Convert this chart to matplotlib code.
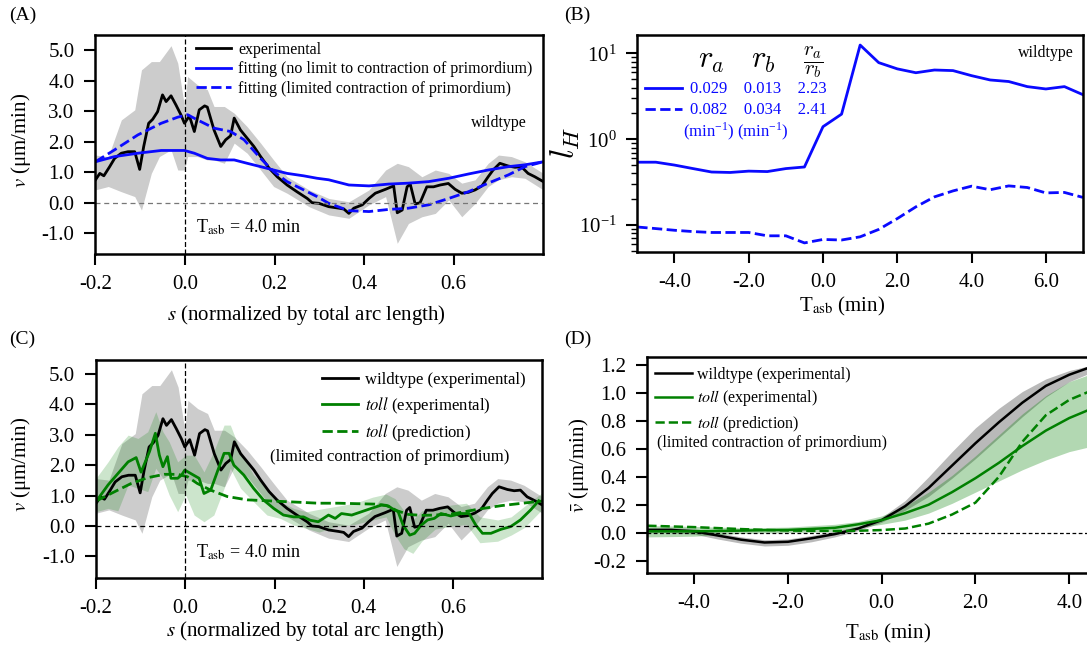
import numpy as np
import matplotlib
matplotlib.use('Agg')
from matplotlib import pyplot as plt
from matplotlib.ticker import FormatStrFormatter

plt.rcParams['font.family'] = ['Liberation Serif', 'DejaVu Serif']
plt.rcParams['mathtext.fontset'] = 'stix'
plt.rcParams['axes.unicode_minus'] = False

# ---- panel A / C : wildtype experimental velocity profile at T_asb = 4 min
s_wt = [-0.200, -0.190, -0.181, -0.168, -0.157, -0.142, -0.127, -0.112, -0.101, -0.092,
        -0.081, -0.072, -0.061, -0.050, -0.042, -0.031, -0.020, -0.009, -0.001, 0.010,
        0.021, 0.032, 0.044, 0.050, 0.065, 0.080, 0.091, 0.102, 0.110, 0.124,
        0.139, 0.154, 0.169, 0.188, 0.206, 0.228, 0.250, 0.273, 0.284, 0.299,
        0.321, 0.344, 0.355, 0.366, 0.377, 0.396, 0.411, 0.425, 0.448, 0.466,
        0.474, 0.485, 0.496, 0.503, 0.514, 0.525, 0.540, 0.555, 0.570, 0.581,
        0.588, 0.603, 0.618, 0.633, 0.648, 0.663, 0.677, 0.688, 0.703, 0.722,
        0.737, 0.751, 0.766, 0.781, 0.800]
v_wt = [0.74, 0.96, 0.88, 1.18, 1.45, 1.62, 1.67, 1.67, 1.09, 1.84,
        2.60, 2.73, 2.98, 3.53, 3.31, 3.50, 3.20, 2.88, 2.60, 2.84,
        2.33, 3.04, 3.17, 3.13, 2.38, 1.84, 2.06, 2.19, 2.77, 2.38,
        2.11, 1.84, 1.51, 1.13, 0.85, 0.58, 0.36, 0.14, 0.00, -0.02,
        -0.13, -0.18, -0.21, -0.35, -0.18, -0.07, 0.14, 0.31, 0.44, 0.55,
        -0.33, -0.24, 0.52, 0.61, -0.04, 0.00, 0.52, 0.52, 0.58, 0.61,
        0.63, 0.44, 0.31, 0.34, 0.42, 0.55, 0.85, 1.07, 1.29, 1.20,
        1.16, 1.18, 0.96, 0.85, 0.69]

s_wt_band = [-0.200, -0.171, -0.142, -0.112, -0.097, -0.075, -0.057, -0.031, -0.016, -0.001,
             0.006, 0.028, 0.050, 0.065, 0.088, 0.110, 0.139, 0.169, 0.198, 0.228,
             0.265, 0.277, 0.321, 0.366, 0.411, 0.448, 0.474, 0.499, 0.529, 0.559,
             0.589, 0.618, 0.648, 0.677, 0.700, 0.729, 0.759, 0.800]
v_wt_hi = [1.56, 1.51, 2.71, 3.04, 4.35, 4.62, 4.62, 5.14, 4.57, 3.15,
           4.13, 3.86, 3.70, 3.15, 3.15, 2.93, 2.49, 1.95, 1.40, 0.85,
           0.53, 0.42, 0.14, 0.03, 0.42, 1.07, 1.29, 1.18, 0.85, 1.07,
           0.96, 0.64, 0.75, 1.29, 1.56, 1.51, 1.34, 0.96]
v_wt_lo = [0.42, 0.53, 0.36, 0.20, -0.24, 0.96, 1.51, 1.73, 1.07, 1.07,
           1.51, 1.51, 1.40, 1.40, 1.29, 1.95, 1.62, 1.07, 0.53, 0.31,
           -0.02, -0.13, -0.40, -0.51, -0.07, 0.20, -1.33, -0.68, -0.46, -0.35,
           0.09, -0.46, -0.02, 0.53, 0.75, 0.85, 0.80, 0.42]

s_fit1 = [-0.200, -0.157, -0.105, -0.053, -0.001, 0.021, 0.050, 0.080, 0.110, 0.139,
          0.169, 0.198, 0.228, 0.265, 0.295, 0.321, 0.366, 0.411, 0.455, 0.499,
          0.544, 0.589, 0.633, 0.677, 0.722, 0.759, 0.800]
v_nolimit = [1.34, 1.51, 1.62, 1.71, 1.71, 1.62, 1.45, 1.40, 1.40, 1.29,
             1.18, 1.07, 0.96, 0.88, 0.80, 0.75, 0.58, 0.55, 0.61, 0.64,
             0.69, 0.80, 0.94, 1.07, 1.18, 1.24, 1.34]
s_fit2 = [-0.200, -0.157, -0.105, -0.053, -0.016, 0.006, 0.028, 0.065, 0.102, 0.132,
          0.169, 0.198, 0.228, 0.265, 0.295, 0.321, 0.366, 0.411, 0.455, 0.499,
          0.544, 0.589, 0.633, 0.677, 0.722, 0.759, 0.800]
v_limited = [1.34, 1.73, 2.22, 2.60, 2.80, 2.88, 2.71, 2.44, 2.33, 2.06,
             1.45, 1.02, 0.69, 0.42, 0.20, -0.02, -0.26, -0.29, -0.22, -0.18,
             -0.07, 0.14, 0.36, 0.64, 0.91, 1.18, 1.34]

# ---- panel C : toll mutant
s_toll = [-0.200, -0.173, -0.147, -0.128, -0.110, -0.099, -0.080, -0.067, -0.058, -0.050,
          -0.040, -0.032, -0.017, -0.008, -0.001, 0.012, 0.031, 0.042, 0.057, 0.072,
          0.087, 0.098, 0.109, 0.131, 0.153, 0.175, 0.198, 0.220, 0.243, 0.265,
          0.280, 0.298, 0.321, 0.336, 0.350, 0.373, 0.395, 0.417, 0.440, 0.455,
          0.466, 0.477, 0.488, 0.503, 0.514, 0.529, 0.543, 0.558, 0.573, 0.595,
          0.618, 0.636, 0.651, 0.666, 0.685, 0.707, 0.729, 0.751, 0.774, 0.792]
v_toll = [0.80, 1.35, 1.79, 2.11, 2.25, 1.77, 2.45, 3.05, 2.33, 1.95,
          2.28, 1.57, 1.57, 1.68, 1.84, 1.73, 1.57, 1.07, 1.18, 1.79,
          2.39, 2.39, 2.00, 1.68, 1.24, 0.86, 0.58, 0.36, 0.30, 0.30,
          0.19, 0.14, 0.36, 0.25, 0.41, 0.36, 0.47, 0.58, 0.69, 0.66,
          0.55, 0.47, 0.03, -0.30, -0.24, 0.03, 0.20, 0.25, 0.41, 0.33,
          0.41, 0.41, 0.03, -0.24, -0.24, -0.11, -0.02, 0.20, 0.53, 0.83]
s_toll_band = [-0.200, -0.173, -0.151, -0.128, -0.106, -0.084, -0.066, -0.050, -0.036, -0.017,
               0.001, 0.020, 0.042, 0.064, 0.087, 0.101, 0.124, 0.153, 0.183, 0.213,
               0.243, 0.272, 0.300, 0.340, 0.380, 0.420, 0.450, 0.470, 0.490, 0.510,
               0.530, 0.560, 0.600, 0.630, 0.660, 0.700, 0.730, 0.760, 0.800]
v_toll_hi = [1.57, 2.11, 2.60, 2.99, 2.88, 3.10, 3.76, 3.10, 2.77, 2.11,
             2.33, 2.33, 1.78, 2.45, 3.32, 3.32, 2.45, 1.68, 1.24, 0.80,
             0.58, 0.47, 0.55, 0.65, 0.75, 0.95, 1.05, 0.90, 0.50, 0.20,
             0.50, 0.60, 0.70, 0.75, 0.30, 0.20, 0.30, 0.65, 1.10]
v_toll_lo = [0.47, 0.58, 0.50, 1.35, 1.24, 1.13, 1.90, 1.57, 1.02, 0.47,
             1.02, 0.36, 0.14, 0.36, 1.24, 1.90, 1.24, 0.80, 0.36, 0.25,
             0.03, -0.08, -0.20, 0.00, 0.05, 0.20, 0.30, -0.30, -0.75, -0.90,
             -0.50, -0.10, 0.00, 0.05, -0.55, -0.50, -0.30, -0.05, 0.55]
s_toll_pred = [-0.200, -0.158, -0.121, -0.084, -0.047, -0.017, 0.005, 0.027, 0.057, 0.094,
               0.139, 0.198, 0.257, 0.298, 0.343, 0.425, 0.450, 0.475, 0.500, 0.530,
               0.560, 0.600, 0.655, 0.708, 0.786, 0.800]
v_toll_pred = [0.82, 1.13, 1.40, 1.59, 1.70, 1.70, 1.62, 1.40, 1.18, 0.97,
               0.86, 0.82, 0.78, 0.75, 0.75, 0.72, 0.68, 0.50, 0.38, 0.35,
               0.36, 0.40, 0.55, 0.67, 0.80, 0.82]

# ---- panel B : l_H over time
t_lh = [-5.0, -4.5, -4.0, -3.5, -3.0, -2.5, -2.0, -1.5, -1.0, -0.5, 0.0, 0.5,
        1.0, 1.5, 2.0, 2.5, 3.0, 3.5, 4.0, 4.5, 5.0, 5.5, 6.0, 6.5, 7.0]
lh_nolimit = [0.54, 0.54, 0.50, 0.455, 0.415, 0.41, 0.425, 0.42, 0.455, 0.475, 1.40, 1.96,
              12.5, 7.8, 6.6, 5.95, 6.4, 6.3, 5.5, 4.9, 4.7, 4.1, 3.85, 4.1, 3.3]
lh_limited = [0.095, 0.091, 0.087, 0.084, 0.082, 0.082, 0.082, 0.075, 0.075, 0.062, 0.068, 0.067,
              0.073, 0.089, 0.119, 0.163, 0.213, 0.25, 0.284, 0.258, 0.286, 0.274, 0.237, 0.24, 0.21]
r_a = [0.029, 0.082]
r_b = [0.013, 0.034]
ratio = [2.23, 2.41]

# ---- panel D : mean velocity over time
t_vm = [-5.0, -4.5, -4.0, -3.5, -3.0, -2.5, -2.0, -1.5, -1.0, -0.5,
        0.0, 0.5, 1.0, 1.5, 2.0, 2.5, 3.0, 3.5, 4.0, 4.5]
vm_wt = [0.02, 0.02, 0.01, -0.02, -0.05, -0.07, -0.065, -0.04, -0.01, 0.03,
         0.09, 0.19, 0.32, 0.48, 0.64, 0.79, 0.93, 1.05, 1.13, 1.19]
vm_wt_hi = [0.035, 0.035, 0.03, 0.0, -0.03, -0.05, -0.045, -0.02, 0.01, 0.045,
            0.11, 0.23, 0.40, 0.58, 0.75, 0.89, 1.01, 1.10, 1.16, 1.20]
vm_wt_lo = [0.0, 0.0, -0.01, -0.045, -0.075, -0.095, -0.09, -0.065, -0.03, 0.015,
            0.075, 0.16, 0.26, 0.39, 0.53, 0.68, 0.83, 0.97, 1.08, 1.15]
vm_toll = [0.01, 0.01, 0.01, 0.012, 0.015, 0.018, 0.02, 0.027, 0.035, 0.06,
           0.09, 0.14, 0.20, 0.29, 0.39, 0.50, 0.62, 0.73, 0.82, 0.89]
vm_toll_hi = [0.05, 0.048, 0.045, 0.04, 0.035, 0.037, 0.04, 0.05, 0.06, 0.08,
              0.12, 0.19, 0.29, 0.41, 0.55, 0.70, 0.85, 0.98, 1.08, 1.14]
vm_toll_lo = [-0.03, -0.028, -0.025, -0.015, -0.005, -0.002, 0.0, 0.005, 0.01, 0.035,
              0.06, 0.09, 0.14, 0.21, 0.29, 0.37, 0.45, 0.52, 0.58, 0.62]
vm_toll_pred = [0.05, 0.045, 0.04, 0.033, 0.026, 0.02, 0.016, 0.013, 0.012, 0.014,
                0.019, 0.03, 0.065, 0.13, 0.215, 0.40, 0.65, 0.84, 0.95, 1.02]

green = '#008000'
blue = '#0a0aff'
tick_kw = dict(direction='out', length=8, width=1.5, labelsize=15, pad=7)


def style(ax):
    for sp in ax.spines.values():
        sp.set_linewidth(1.8)
    ax.tick_params(which='major', **tick_kw)


fig = plt.figure(figsize=(10.87, 6.51), dpi=100)

# ================= (A)
axA = fig.add_axes([0.0877, 0.6098, 0.4121, 0.3369])
axA.fill_between(s_wt_band, v_wt_lo, v_wt_hi, color='gray', alpha=0.4, lw=0)
axA.plot(s_wt, v_wt, color='k', lw=2, label='experimental')
axA.plot(s_fit1, v_nolimit, color=blue, lw=2,
         label='fitting (no limit to contraction of primordium)')
axA.plot(s_fit2, v_limited, color=blue, lw=2, ls='--',
         label='fitting (limited contraction of primordium)')
axA.axhline(0, color='#777777', lw=0.9, ls=(0, (4, 3)))
axA.axvline(0, color='k', lw=0.9, ls=(0, (4, 2)))
axA.set_xlim(-0.2, 0.8)
axA.set_ylim(-1.68, 5.5)
axA.set_xticks([-0.2, 0.0, 0.2, 0.4, 0.6])
axA.set_yticks([-1, 0, 1, 2, 3, 4, 5])
axA.xaxis.set_major_formatter(FormatStrFormatter('%.1f'))
axA.yaxis.set_major_formatter(FormatStrFormatter('%.1f'))
style(axA)
axA.set_xlabel(r'$s$ (normalized by total arc length)', fontsize=15)
axA.xaxis.set_label_coords(0.472, -0.225)
axA.set_ylabel(r'$v$ (μm/min)', fontsize=15)
axA.yaxis.set_label_coords(-0.14, 0.52)
axA.legend(loc='upper left', bbox_to_anchor=(0.225, 0.968), frameon=False, fontsize=11.5,
           handlelength=2.2, handletextpad=0.45, labelspacing=0.22,
           borderpad=0, borderaxespad=0)
axA.text(0.70, 2.6, 'wildtype', fontsize=11.5, ha='center', va='center')
axA.text(0.025, -0.81, r'T$_{\rm asb}$ = 4.0 min', fontsize=13, ha='left', va='center')

# ================= (B)
axB = fig.add_axes([0.5863, 0.6134, 0.4100, 0.3333])
axB.plot(t_lh, lh_nolimit, color=blue, lw=2,
         label=f'{r_a[0]:.3f}    {r_b[0]:.3f}    {ratio[0]:.2f}')
axB.plot(t_lh, lh_limited, color=blue, lw=2, ls='--',
         label=f'{r_a[1]:.3f}    {r_b[1]:.3f}    {ratio[1]:.2f}')
axB.set_yscale('log')
axB.set_xlim(-5, 7)
axB.set_ylim(0.049, 16.5)
axB.set_xticks([-4, -2, 0, 2, 4, 6])
axB.xaxis.set_major_formatter(FormatStrFormatter('%.1f'))
style(axB)
axB.tick_params(which='minor', direction='out', length=4, width=1)
axB.set_xlabel(r'T$_{\rm asb}$ (min)', fontsize=15)
axB.xaxis.set_label_coords(0.46, -0.20)
axB.set_ylabel(r'$l_H$', fontsize=24, math_fontfamily='cm')
axB.yaxis.set_label_coords(-0.125, 0.5)
legB = axB.legend(loc='upper left', bbox_to_anchor=(0.017, 0.785), frameon=False, fontsize=12,
                  handlelength=2.2, handletextpad=0.5, labelspacing=0.3,
                  borderpad=0, borderaxespad=0)
for t in legB.get_texts():
    t.set_color(blue)
axB.text(0.167, 0.883, r'$r_a$', fontsize=22, math_fontfamily='cm',
         ha='center', va='center', transform=axB.transAxes)
axB.text(0.282, 0.883, r'$r_b$', fontsize=22, math_fontfamily='cm',
         ha='center', va='center', transform=axB.transAxes)
axB.text(0.394, 0.874, r'$\dfrac{r_a}{r_b}$', fontsize=15, math_fontfamily='cm',
         ha='center', va='center', transform=axB.transAxes)
for xc in (0.161, 0.282):
    axB.text(xc, 0.556, r'(min$^{\mathregular{-1}}$)', fontsize=12, color=blue,
             ha='center', va='center', transform=axB.transAxes)
axB.text(0.98, 0.914, 'wildtype', fontsize=11.5, ha='right', va='center',
         transform=axB.transAxes)

# ================= (C)
axC = fig.add_axes([0.0883, 0.1126, 0.4106, 0.3344])
axC.fill_between(s_wt_band, v_wt_lo, v_wt_hi, color='gray', alpha=0.4, lw=0)
axC.fill_between(s_toll_band, v_toll_lo, v_toll_hi, color=green, alpha=0.2, lw=0)
axC.plot(s_wt, v_wt, color='k', lw=2, label='wildtype (experimental)')
axC.plot(s_toll, v_toll, color=green, lw=2, label=r'$\mathit{toll}$ (experimental)')
axC.plot(s_toll_pred, v_toll_pred, color=green, lw=2, ls='--',
         label=r'$\mathit{toll}$ (prediction)')
axC.axhline(0, color='k', lw=0.9, ls=(0, (4, 3)))
axC.axvline(0, color='k', lw=0.9, ls=(0, (4, 2)))
axC.set_xlim(-0.2, 0.8)
axC.set_ylim(-1.7, 5.46)
axC.set_xticks([-0.2, 0.0, 0.2, 0.4, 0.6])
axC.set_yticks([-1, 0, 1, 2, 3, 4, 5])
axC.xaxis.set_major_formatter(FormatStrFormatter('%.1f'))
axC.yaxis.set_major_formatter(FormatStrFormatter('%.1f'))
style(axC)
axC.set_xlabel(r'$s$ (normalized by total arc length)', fontsize=15)
axC.xaxis.set_label_coords(0.468, -0.19)
axC.set_ylabel(r'$v$ (μm/min)', fontsize=15)
axC.yaxis.set_label_coords(-0.142, 0.52)
axC.legend(loc='upper left', bbox_to_anchor=(0.506, 0.945), frameon=False, fontsize=12,
           handlelength=2.2, handletextpad=0.42, labelspacing=0.4,
           borderpad=0, borderaxespad=0)
axC.text(0.389, 0.553, '(limited contraction of primordium)', fontsize=12,
         ha='left', va='center', transform=axC.transAxes)
axC.text(0.025, -0.88, r'T$_{\rm asb}$ = 4.0 min', fontsize=13, ha='left', va='center')

# ================= (D)
axD = fig.add_axes([0.5955, 0.1203, 0.5175, 0.3309])
axD.fill_between(t_vm, vm_wt_lo, vm_wt_hi, color='gray', alpha=0.55, lw=0)
axD.fill_between(t_vm, vm_toll_lo, vm_toll_hi, color=green, alpha=0.3, lw=0)
axD.plot(t_vm, vm_wt, color='k', lw=1.8, label='wildtype (experimental)')
axD.plot(t_vm, vm_toll, color=green, lw=1.8, label=r'$\mathit{toll}$ (experimental)')
axD.plot(t_vm, vm_toll_pred, color=green, lw=1.8, ls='--',
         label=r'$\mathit{toll}$ (prediction)')
axD.axhline(0, color='k', lw=0.9, ls=(0, (3, 2)))
axD.set_xlim(-5, 7)
axD.set_ylim(-0.286, 1.255)
axD.set_xticks([-4, -2, 0, 2, 4, 6])
axD.set_yticks([-0.2, 0.0, 0.2, 0.4, 0.6, 0.8, 1.0, 1.2])
axD.xaxis.set_major_formatter(FormatStrFormatter('%.1f'))
axD.yaxis.set_major_formatter(FormatStrFormatter('%.1f'))
style(axD)
axD.set_xlabel(r'T$_{\rm asb}$ (min)', fontsize=15)
axD.xaxis.set_label_coords(0.428, -0.23)
axD.set_ylabel(r'$\bar{v}$ (μm/min)', fontsize=15)
axD.yaxis.set_label_coords(-0.10, 0.5)
axD.legend(loc='upper left', bbox_to_anchor=(0.0137, 0.957), frameon=False, fontsize=11.5,
           handlelength=2.3, handletextpad=0.35, labelspacing=0.35,
           borderpad=0, borderaxespad=0)
axD.text(0.0167, 0.60, '(limited contraction of primordium)', fontsize=11.5,
         ha='left', va='center', transform=axD.transAxes)

for lab, x, y in [('(A)', 0.008, 0.977), ('(B)', 0.519, 0.977),
                  ('(C)', 0.008, 0.478), ('(D)', 0.519, 0.478)]:
    fig.text(x, y, lab, fontsize=14, ha='left', va='center')

fig.savefig('out.png', dpi=100)
